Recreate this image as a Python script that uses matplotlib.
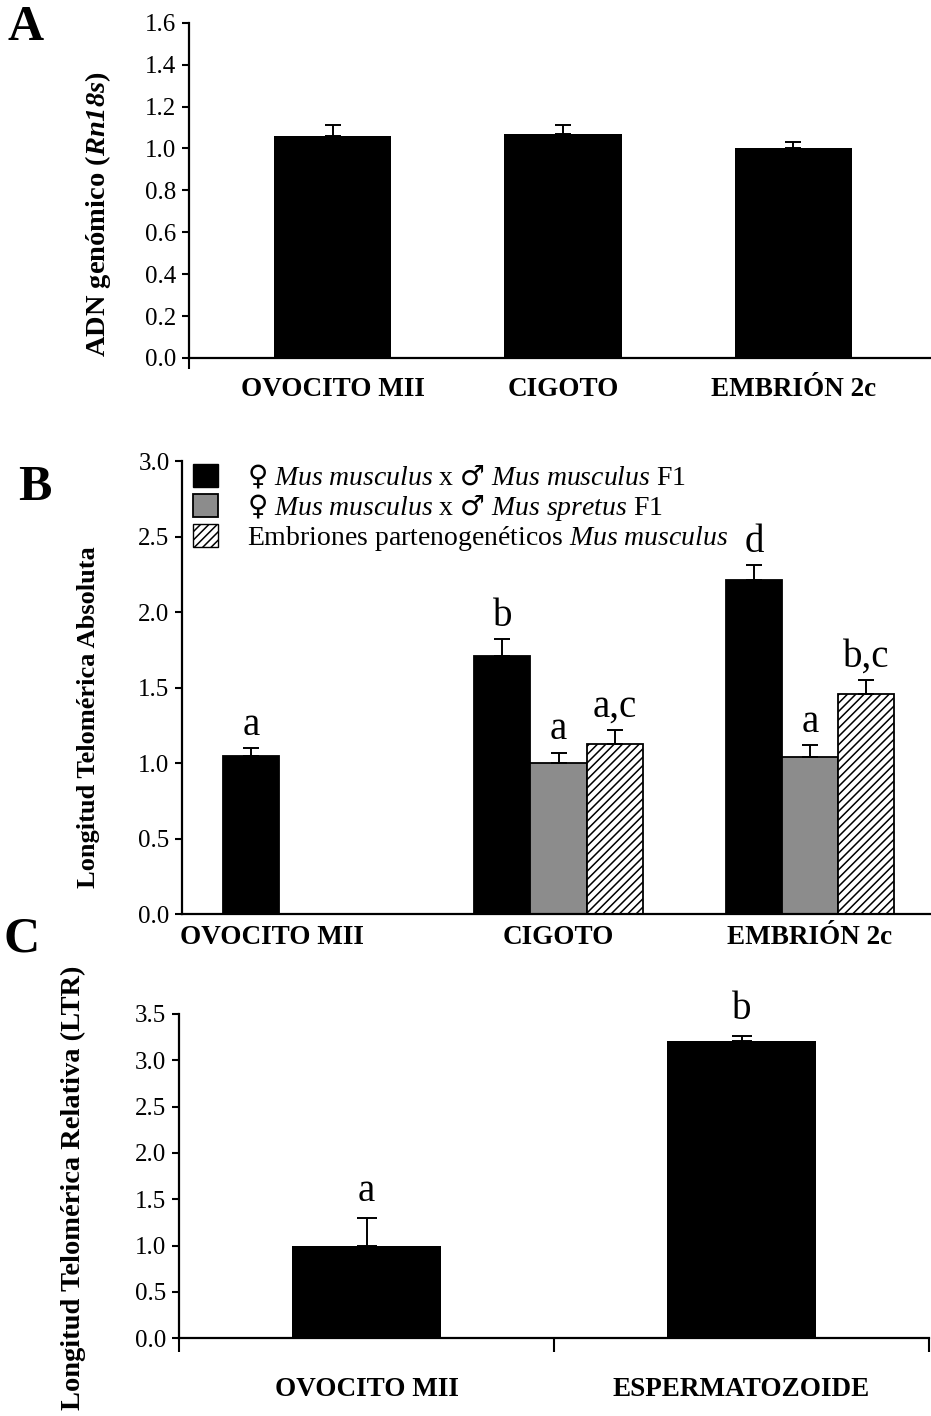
import numpy as np
import matplotlib
matplotlib.use("Agg")
import matplotlib.pyplot as plt
from matplotlib.patches import Patch

plt.rcParams['font.family'] = ['Liberation Serif', 'DejaVu Sans']
plt.rcParams['mathtext.fontset'] = 'custom'
plt.rcParams['mathtext.rm'] = 'Liberation Serif'
plt.rcParams['mathtext.it'] = 'Liberation Serif:italic'
plt.rcParams['mathtext.bf'] = 'Liberation Serif:bold'
plt.rcParams['mathtext.bfit'] = 'Liberation Serif:bold:italic'
plt.rcParams['mathtext.sf'] = 'DejaVu Sans'
plt.rcParams['hatch.linewidth'] = 1.1

# ---- panel A data
a_cats = ['OVOCITO MII', 'CIGOTO', 'EMBRIÓN 2c']
a_vals = [1.06, 1.07, 1.00]
a_err = [0.05, 0.04, 0.03]

# ---- panel B data
b_cats = ['OVOCITO MII', 'CIGOTO', 'EMBRIÓN 2c']
b_mm = [1.05, 1.71, 2.21]
b_mm_err = [0.05, 0.11, 0.10]
b_mm_lbl = ['a', 'b', 'd']
b_ms = [np.nan, 1.00, 1.04]
b_ms_err = [np.nan, 0.07, 0.08]
b_ms_lbl = ['', 'a', 'a']
b_pt = [np.nan, 1.13, 1.46]
b_pt_err = [np.nan, 0.09, 0.09]
b_pt_lbl = ['', 'a,c', 'b,c']
b_legend = [r'$\mathsf{♀}$ $\mathit{Mus\ musculus}$ x $\mathsf{♂}$ $\mathit{Mus\ musculus}$ F1',
            r'$\mathsf{♀}$ $\mathit{Mus\ musculus}$ x $\mathsf{♂}$ $\mathit{Mus\ spretus}$ F1',
            r'Embriones partenogenéticos $\mathit{Mus\ musculus}$']

# ---- panel C data
c_cats = ['OVOCITO MII', 'ESPERMATOZOIDE']
c_vals = [1.00, 3.21]
c_err = [0.30, 0.05]
c_lbl = ['a', 'b']

gray = '#8c8c8c'
W, H = 931, 1416


def frac(x0, y_top, x1, y_bot):
    return [x0 / W, 1 - y_bot / H, (x1 - x0) / W, (y_bot - y_top) / H]


def style(ax):
    for s in ['top', 'right']:
        ax.spines[s].set_visible(False)
    for s in ['left', 'bottom']:
        ax.spines[s].set_linewidth(1.6)
    ax.tick_params(axis='y', direction='out', length=5, width=1.5, labelsize=18, pad=4)


def upper_err(ax, x, v, e, lw=1.4, cap=6):
    ax.errorbar(x, v, yerr=[[0] * len(v), e], fmt='none', ecolor='black',
                elinewidth=lw, capsize=cap, capthick=lw)


fig = plt.figure(figsize=(W / 100, H / 100), dpi=100)

# ================= A
axA = fig.add_axes(frac(189, 22.7, 931, 358))
xa = np.arange(len(a_cats))
axA.bar(xa, a_vals, width=0.51, color='black')
upper_err(axA, xa, a_vals, a_err)
axA.set_xlim(-0.624, 2.598)
axA.set_ylim(0, 1.6)
axA.set_yticks(np.arange(0, 1.61, 0.2))
axA.set_yticklabels([f'{v:.1f}' for v in np.arange(0, 1.61, 0.2)])
axA.set_xticks(xa)
axA.set_xticklabels(a_cats, fontsize=19.5, fontweight='bold')
axA.tick_params(axis='x', length=0, pad=14)
axA.set_xticks([-0.624], minor=True)
axA.tick_params(axis='x', which='minor', length=8, width=1.5, direction='out')
style(axA)
axA.set_ylabel(r'ADN genómico ($\mathbfit{Rn18s}$)', fontsize=20.5, fontweight='bold')
axA.yaxis.set_label_coords(-0.122, 0.43)
axA.yaxis.label.set_va('center')

# ================= B
axB = fig.add_axes(frac(182, 461, 931, 914.3))
xb = np.arange(len(b_cats))
w = 0.223
series = [(b_mm, b_mm_err, b_mm_lbl, -w, dict(color='black', edgecolor='black')),
          (b_ms, b_ms_err, b_ms_lbl, 0, dict(color=gray, edgecolor='black')),
          (b_pt, b_pt_err, b_pt_lbl, w, dict(color='white', edgecolor='black', hatch='////'))]
for vals, errs, lbls, off, kw in series:
    vals = np.array(vals)
    errs = np.array(errs)
    m = ~np.isnan(vals)
    axB.bar(xb[m] + off, vals[m], width=w, linewidth=1.3, **kw)
    upper_err(axB, xb[m] + off, vals[m], errs[m])
    for xi, v, e, t in zip(xb[m] + off, vals[m], errs[m], np.array(lbls)[m]):
        axB.annotate(t, (xi, v + e), xytext=(0, 3), textcoords='offset points',
                     ha='center', va='bottom', fontsize=28)
axB.set_xlim(-0.497, 2.481)
axB.set_ylim(0, 3.0)
axB.set_yticks(np.arange(0, 3.01, 0.5))
axB.set_yticklabels([f'{v:.1f}' for v in np.arange(0, 3.01, 0.5)])
# first category label sits left of its group
axB.set_xticks(xb + np.array([-0.139, 0, 0]))
axB.set_xticklabels(b_cats, fontsize=19.5, fontweight='bold')
axB.tick_params(axis='x', length=0, pad=8)
style(axB)
axB.set_ylabel('Longitud Telomérica Absoluta', fontsize=19, fontweight='bold')
axB.yaxis.set_label_coords(-0.1255, 0.435)
axB.yaxis.label.set_va('center')
handles = [Patch(facecolor='black', edgecolor='black'),
           Patch(facecolor=gray, edgecolor='black', linewidth=1.3),
           Patch(facecolor='white', edgecolor='black', hatch='////')]
axB.legend(handles, b_legend, loc='upper left', bbox_to_anchor=(0.0147, 0.995),
           frameon=False, fontsize=20, handlelength=0.9, handleheight=0.9,
           handletextpad=1.05, labelspacing=0.03, borderpad=0, borderaxespad=0)

# ================= C
axC = fig.add_axes(frac(179, 1014, 929, 1338.3))
xc = np.arange(len(c_cats))
axC.bar(xc, c_vals, width=0.395, color='black')
upper_err(axC, xc, c_vals, c_err, cap=7)
for xi, v, e, t in zip(xc, c_vals, c_err, c_lbl):
    axC.annotate(t, (xi, v + e), xytext=(0, 6), textcoords='offset points',
                 ha='center', va='bottom', fontsize=28)
axC.set_xlim(-0.5, 1.5)
axC.set_ylim(0, 3.5)
axC.set_yticks(np.arange(0, 3.51, 0.5))
axC.set_yticklabels([f'{v:.1f}' for v in np.arange(0, 3.51, 0.5)])
axC.set_xticks(xc)
axC.set_xticklabels(c_cats, fontsize=19.5, fontweight='bold')
axC.tick_params(axis='x', length=0, pad=28)
axC.set_xticks([-0.5, 0.5, 1.5], minor=True)
axC.tick_params(axis='x', which='minor', length=10, width=1.5, direction='out')
style(axC)
axC.set_ylabel('Longitud Telomérica Relativa (LTR)', fontsize=20.5, fontweight='bold')
axC.yaxis.set_label_coords(-0.141, 0.463)
axC.yaxis.label.set_va('center')

# panel letters
fig.text(8 / W, 1 - 28 / H, 'A', fontsize=36, fontweight='bold', va='center')
fig.text(18 / W, 1 - 488 / H, 'B', fontsize=36, fontweight='bold', va='center')
fig.text(3 / W, 1 - 940 / H, 'C', fontsize=36, fontweight='bold', va='center')

fig.savefig('out.png', dpi=100)
